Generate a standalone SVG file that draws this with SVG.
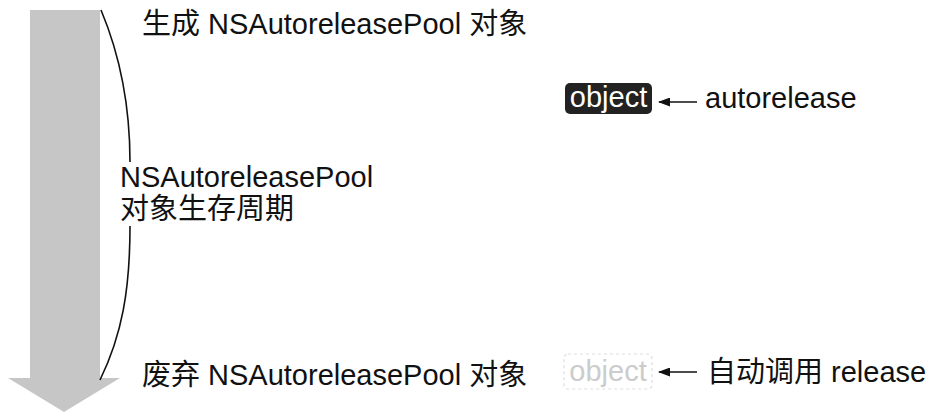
<svg xmlns="http://www.w3.org/2000/svg" width="948" height="414" viewBox="0 0 948 414">
<style>
.t{font-family:"Liberation Sans","Noto Sans CJK SC",sans-serif;font-size:29px;fill:#111}
.conn{stroke:#111;stroke-width:1.6;fill:none}
</style>
<defs>
<marker id="ah" viewBox="0 0 12 9" refX="11" refY="4.5" markerUnits="userSpaceOnUse" markerWidth="12" markerHeight="9" orient="auto">
<path d="M12,4.5 L0,0 L0,9 Z" fill="#111"/>
</marker>
</defs>
<rect width="948" height="414" fill="#fff"/>
<g id="timeline">
<rect x="30" y="10" width="70" height="370" fill="#c6c6c6"/>
<polygon points="8,378 120,378 64,412" fill="#c6c6c6"/>
</g>
<g id="connectors">
<path class="conn" d="M101,10 C122,60 130,110 130,162"/>
<path class="conn" d="M130,226 C130,290 122,335 100,380"/>
<line class="conn" x1="697" y1="102" x2="659" y2="102" marker-end="url(#ah)"/>
<line class="conn" x1="697" y1="372" x2="659" y2="372" marker-end="url(#ah)"/>
</g>
<g id="label-create"><text class="t" x="142" y="34">生成 NSAutoreleasePool 对象</text></g>
<g id="label-life"><text class="t" x="120" y="187">NSAutoreleasePool</text><text class="t" x="120" y="219">对象生存周期</text></g>
<g id="label-destroy"><text class="t" x="142" y="385">废弃 NSAutoreleasePool 对象</text></g>
<g id="obj1">
<rect x="565" y="83" width="87" height="31" rx="5" fill="#222"/>
<text class="t" x="608.5" y="107" text-anchor="middle" style="fill:#fff">object</text>
</g>
<g id="label-autorelease"><text class="t" x="705" y="108">autorelease</text></g>
<g id="obj2">
<rect x="564" y="354" width="88" height="35" rx="4" fill="none" stroke="#ddd" stroke-width="1.2" stroke-dasharray="3,3"/>
<text class="t" x="608" y="381" text-anchor="middle" style="fill:#ccc">object</text>
</g>
<g id="label-release"><text class="t" x="707" y="382">自动调用 release</text></g>
</svg>
